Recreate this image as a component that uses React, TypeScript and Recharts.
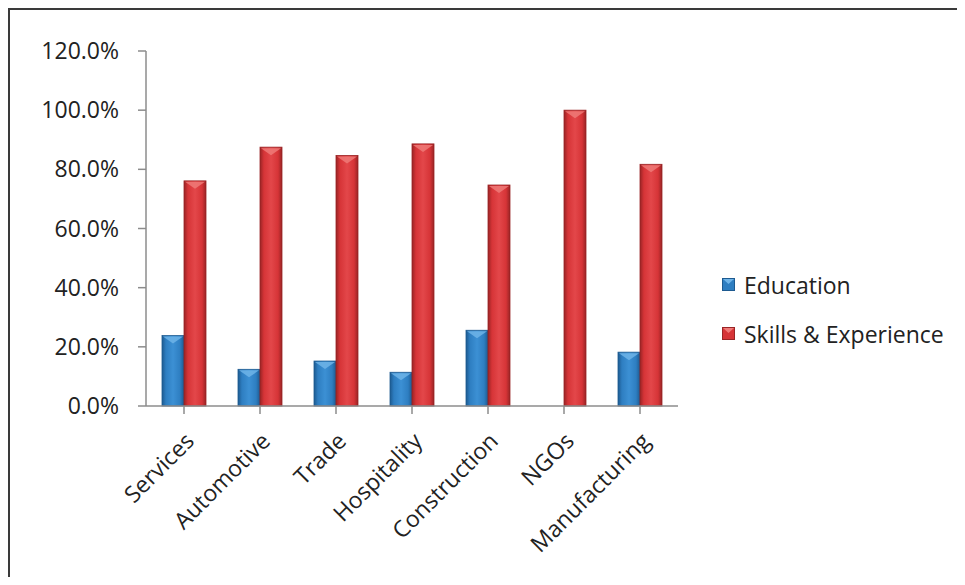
import { Bar, BarChart, XAxis, YAxis } from "recharts";

const sectors = ["Services", "Automotive", "Trade", "Hospitality", "Construction", "NGOs", "Manufacturing"];
const education = [0.238, 0.124, 0.152, 0.114, 0.256, 0, 0.182];
const skillsExperience = [0.761, 0.875, 0.847, 0.886, 0.747, 1.0, 0.817];
const yTicks = [0, 0.2, 0.4, 0.6, 0.8, 1.0, 1.2];
const seriesNames = ["Education", "Skills & Experience"];

const data = sectors.map((name, i) => ({
  name,
  education: education[i],
  skills: skillsExperience[i],
}));

const font = "'Open Sans', sans-serif";
const axisColor = "#8c8c8c";

const palette: Record<string, { dark: string; main: string; light: string; cap: string }> = {
  blue: { dark: "#1d5a90", main: "#2e7ec1", light: "#3c90d4", cap: "#6fb4e8" },
  red: { dark: "#992425", main: "#d63437", light: "#e3474a", cap: "#ef7a78" },
};
const seriesKeys = ["blue", "red"];

function bevelBar(key: string) {
  return (props: any) => {
    const { x, y, width, height } = props;
    if (!height || height <= 0) return <g />;
    const c = palette[key];
    const cap = Math.min(8, height);
    return (
      <g>
        <rect x={x} y={y} width={width} height={height} fill={`url(#grad-${key})`} stroke={c.dark} strokeWidth={0.8} />
        <polygon
          points={`${x + 1},${y + 1} ${x + width - 1},${y + 1} ${x + width / 2},${y + cap}`}
          fill={c.cap}
          opacity={0.85}
        />
      </g>
    );
  };
}

function LegendBox() {
  return (
    <div style={{ position: "absolute", left: 712, top: 250, fontFamily: font, fontSize: 23, color: "#222" }}>
      {seriesNames.map((name, i) => {
        const c = palette[seriesKeys[i]];
        return (
          <div key={name} style={{ display: "flex", alignItems: "center", height: 49 }}>
            <svg width={13} height={13} style={{ marginRight: 9 }}>
              <rect x={0.5} y={0.5} width={12} height={12} fill={c.main} stroke={c.dark} />
              <polygon points="1,1 12,1 6.5,6" fill={c.cap} />
            </svg>
            <span>{name}</span>
          </div>
        );
      })}
    </div>
  );
}

export default function App() {
  return (
    <div
      style={{
        position: "relative",
        width: 947,
        height: 567,
        borderTop: "2px solid #3a3a3a",
        borderLeft: "2px solid #3a3a3a",
        background: "#fff",
      }}
    >
      <BarChart
        width={947}
        height={567}
        data={data}
        margin={{ top: 41, right: 279, bottom: 0, left: 0 }}
        barGap={0}
      >
        <defs>
          {Object.entries(palette).map(([key, c]) => (
            <linearGradient key={key} id={`grad-${key}`} x1="0" y1="0" x2="1" y2="0">
              <stop offset="0%" stopColor={c.dark} />
              <stop offset="18%" stopColor={c.main} />
              <stop offset="50%" stopColor={c.light} />
              <stop offset="82%" stopColor={c.main} />
              <stop offset="100%" stopColor={c.dark} />
            </linearGradient>
          ))}
        </defs>
        <XAxis
          dataKey="name"
          height={171}
          interval={0}
          angle={-45}
          textAnchor="end"
          tickSize={8}
          tickMargin={17}
          stroke={axisColor}
          strokeWidth={1.5}
          tick={{ fill: "#222", fontFamily: font, fontSize: 23 }}
        />
        <YAxis
          width={136}
          domain={[0, 1.2]}
          ticks={yTicks}
          tickFormatter={(v: number) => `${(v * 100).toFixed(1)}%`}
          tickSize={8}
          tickMargin={19}
          stroke={axisColor}
          strokeWidth={1.5}
          tick={{ fill: "#222", fontFamily: font, fontSize: 23 }}
        />
        <Bar dataKey="education" name={seriesNames[0]} barSize={22} fill="#2e7ec1" shape={bevelBar("blue")} isAnimationActive={false} />
        <Bar dataKey="skills" name={seriesNames[1]} barSize={22} fill="#d63437" shape={bevelBar("red")} isAnimationActive={false} />
      </BarChart>
      <LegendBox />
    </div>
  );
}
